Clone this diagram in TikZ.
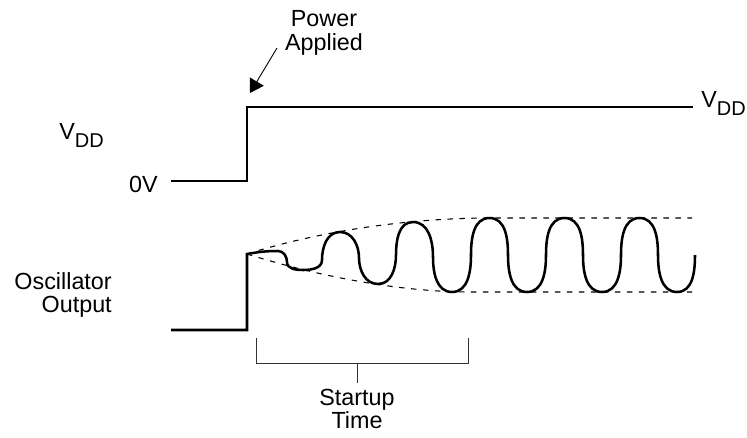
\documentclass[tikz,border=0pt]{standalone}
\usepackage{fontspec}
\setmainfont{Liberation Sans}
\usetikzlibrary{arrows.meta, positioning}

\newcommand{\vddtext}{V\raisebox{-6pt}{\fontsize{15}{15}\selectfont DD}}

\begin{document}
\begin{tikzpicture}[
    x=0.75pt, y=-0.75pt, % work in pixel units, y pointing down
    >=Latex, % Set default arrow tip style
    signal/.style={line width=1.9pt, line join=miter}, % Style for the traces
    envelope/.style={line width=0.8pt, dash pattern=on 4pt off 5pt}, % Style for the dashed envelope
    bracket/.style={line width=0.6pt, black!80}, % Style for the startup bracket
    pointer/.style={-{Triangle[length=10pt,width=12pt]}, line width=0.7pt}, % Style for the arrow
    lbl/.style={inner sep=0pt, font=\fontsize{17.5}{17.5}\selectfont} % Style for the labels
]
    \useasboundingbox (0,0) rectangle (747,437);

    % Supply trace
    \coordinate (vlow) at (171,181);
    \coordinate (vstep) at (247,181);
    \coordinate (vhigh) at (693,107);
    \draw[signal] (vlow) -- (vstep) |- (vhigh);

    \node[lbl, anchor=base west] (vddleft) at (59,139) {\vddtext};
    \node[lbl, anchor=base east] (zero) at (158,192) {0V};
    \node[lbl, anchor=base west] (vddright) at (701,107) {\vddtext};

    % Power applied arrow
    \node[lbl, align=center] (power) at (324,33) {Power\\Applied};
    \coordinate (arrtail) at (277,48);
    \coordinate (arrtip) at (250,93);
    \draw[pointer] (arrtail) -- (arrtip);

    % Oscillator trace
    \coordinate (olow) at (171,330);
    \coordinate (ostep) at (247,330);
    \coordinate (otop) at (247,254);
    \draw[signal] (olow) -- (ostep) -- (otop)
        to[out=10,in=180] (278,251) to[out=0,in=90] (287,262)
        to[out=-90,in=180] (303,270) to[out=0,in=-90] (322,260)
        to[out=90,in=180] (340,232) to[out=0,in=90] (359,258)
        to[out=-90,in=180] (378,284) to[out=0,in=-90] (396,255)
        to[out=90,in=180] (413,222) to[out=0,in=90] (433,257)
        to[out=-90,in=180] (452,292)
        \foreach \t in {452,527,602} {
            to[out=0,in=-90] (\t+19,255) to[out=90,in=180] (\t+37.5,218)
            to[out=0,in=90] (\t+56,255) to[out=-90,in=180] (\t+75,292)
        }
        to[out=0,in=-90] (695,255);

    \node[lbl, align=right, anchor=east] (osc) at (112,295) {Oscillator\\Output};

    % Envelope of the growing oscillation
    \draw[envelope] (otop) .. controls (330,228) and (420,218) .. (490,218) -- (692,218);
    \draw[envelope] (otop) .. controls (330,280) and (410,292) .. (470,292) -- (692,292);

    % Startup time bracket
    \coordinate (stleft) at (256,338);
    \coordinate (stright) at (468,338);
    \coordinate (stmid) at (357,363);
    \coordinate (stend) at (357,383);
    \draw[bracket] (stleft) |- (stright |- stmid) -- (stright);
    \draw[bracket] (stmid) -- (stend);
    \node[lbl, align=center, anchor=north] (startup) at (357,389) {Startup\\Time};

\end{tikzpicture}
\end{document}
